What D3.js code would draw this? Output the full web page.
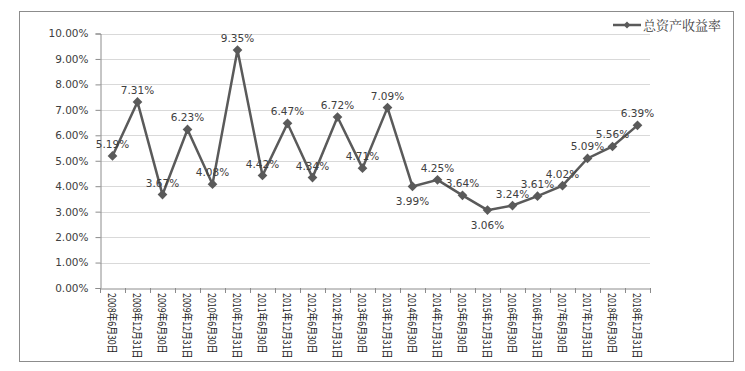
<!DOCTYPE html>
<html>
<head>
<meta charset="utf-8">
<script src="https://cdn.jsdelivr.net/npm/d3@7"></script>
<style>
  body { margin: 0; background: #fff; }
  svg { display: block; }
</style>
</head>
<body>
<svg id="chart" width="745" height="371"></svg>
<script>
// half-year dates and ROA values
var dates = ["2008年6月30日", "2008年12月31日", "2009年6月30日", "2009年12月31日",
  "2010年6月30日", "2010年12月31日", "2011年6月30日", "2011年12月31日",
  "2012年6月30日", "2012年12月31日", "2013年6月30日", "2013年12月31日",
  "2014年6月30日", "2014年12月31日", "2015年6月30日", "2015年12月31日",
  "2016年6月30日", "2016年12月31日", "2017年6月30日", "2017年12月31日",
  "2018年6月30日", "2018年12月31日"];
var roa = [5.19, 7.31, 3.67, 6.23, 4.08, 9.35, 4.42, 6.47, 4.34, 6.72, 4.71,
  7.09, 3.99, 4.25, 3.64, 3.06, 3.24, 3.61, 4.02, 5.09, 5.56, 6.39];
var labelBelow = ["2014年6月30日", "2015年12月31日"];
var yTicks = [0, 1, 2, 3, 4, 5, 6, 7, 8, 9, 10];
var seriesName = "总资产收益率";

var svg = d3.select("#chart");
var lineColor = "#5a5a5a";
var textColor = "#404040";

svg.append("rect")
  .attr("x", 19.5).attr("y", 11.5)
  .attr("width", 714).attr("height", 350)
  .attr("fill", "none").attr("stroke", "#8c8c8c");

var x = d3.scaleBand().domain(dates).range([100, 650]);
var y = d3.scaleLinear().domain([0, 10]).range([288, 33.5]);

// gridlines
svg.append("g").selectAll("line").data(yTicks.slice(1)).join("line")
  .attr("x1", 100).attr("x2", 650)
  .attr("y1", function(d) { return Math.round(y(d)) + 0.5; })
  .attr("y2", function(d) { return Math.round(y(d)) + 0.5; })
  .attr("stroke", "#d9d9d9");

var yAxis = svg.append("g").attr("transform", "translate(100.5,0)")
  .call(d3.axisLeft(y).tickValues(yTicks).tickSize(5).tickPadding(7)
    .tickFormat(function(d) { return d.toFixed(2) + "%"; }));
yAxis.select(".domain").attr("stroke", "#8c8c8c");
yAxis.selectAll(".tick line").attr("stroke", "#8c8c8c");
yAxis.selectAll(".tick text")
  .attr("fill", textColor)
  .style("font-family", "'DejaVu Sans', sans-serif")
  .style("font-size", "10.5px");

var xAxis = svg.append("g").attr("transform", "translate(0,288.5)")
  .call(d3.axisBottom(x).tickSize(0).tickFormat(""));
xAxis.select(".domain").attr("stroke", "#8c8c8c");
svg.append("g").selectAll("line").data(dates.concat([null])).join("line")
  .attr("x1", function(d, i) { return 100.5 + i * x.bandwidth(); })
  .attr("x2", function(d, i) { return 100.5 + i * x.bandwidth(); })
  .attr("y1", 288).attr("y2", 293)
  .attr("stroke", "#8c8c8c");

// rotated date labels, squeezed along the reading direction
svg.append("g").selectAll("text").data(dates).join("text")
  .attr("transform", function(d) {
    return "translate(" + (x(d) + x.bandwidth() / 2 - 5) + ",293) rotate(90) scale(0.8,1)";
  })
  .attr("fill", "#1a1a1a")
  .style("font-family", "'Noto Sans CJK SC', sans-serif")
  .style("font-size", "11px")
  .text(function(d) { return d; });

var pts = dates.map(function(d, i) { return { date: d, v: roa[i] }; });

svg.append("path").datum(pts)
  .attr("fill", "none").attr("stroke", lineColor).attr("stroke-width", 2.5)
  .attr("d", d3.line()
    .x(function(d) { return x(d.date) + x.bandwidth() / 2; })
    .y(function(d) { return y(d.v); }));

var diamond = d3.symbol().type(d3.symbolDiamond2).size(60);
svg.append("g").selectAll("path").data(pts).join("path")
  .attr("d", diamond)
  .attr("transform", function(d) {
    return "translate(" + (x(d.date) + x.bandwidth() / 2) + "," + y(d.v) + ")";
  })
  .attr("fill", lineColor);

svg.append("g").selectAll("text").data(pts).join("text")
  .attr("x", function(d) { return x(d.date) + x.bandwidth() / 2; })
  .attr("y", function(d) {
    return labelBelow.indexOf(d.date) >= 0 ? y(d.v) + 19 : y(d.v) - 8;
  })
  .attr("text-anchor", "middle")
  .attr("fill", textColor)
  .style("font-family", "'DejaVu Sans', sans-serif")
  .style("font-size", "10.5px")
  .text(function(d) { return d.v.toFixed(2) + "%"; });

// legend
var lg = svg.append("g").attr("transform", "translate(613,25)");
lg.append("line").attr("x1", 0).attr("x2", 28).attr("y1", 0).attr("y2", 0)
  .attr("stroke", lineColor).attr("stroke-width", 2.5);
lg.append("path").attr("d", d3.symbol().type(d3.symbolDiamond2).size(30))
  .attr("transform", "translate(14,0)").attr("fill", lineColor);
lg.append("text").attr("x", 30).attr("y", 5)
  .attr("fill", textColor)
  .style("font-family", "'Noto Serif CJK SC', 'Noto Sans CJK SC', serif")
  .style("font-size", "13px")
  .text(seriesName);
</script>
</body>
</html>
